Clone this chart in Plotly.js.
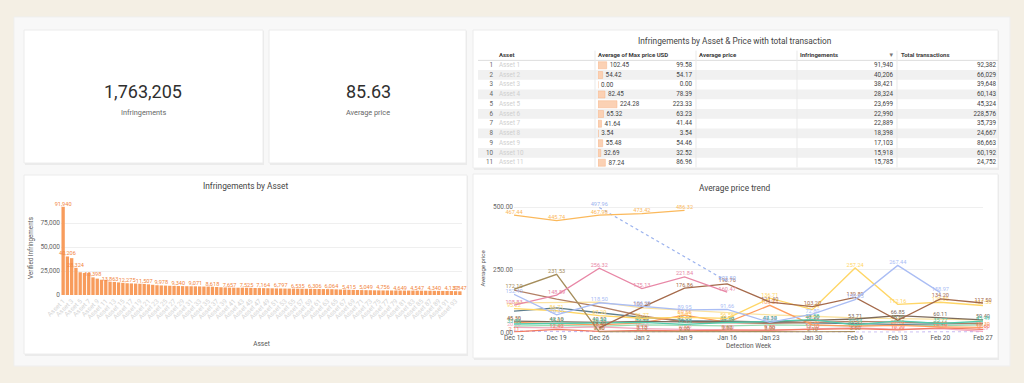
<!DOCTYPE html>
<html><head><meta charset="utf-8">
<script src="https://cdn.plot.ly/plotly-3.0.1.min.js"></script>
<style>html,body{margin:0;padding:0;background:#f4efe4;}#chart{width:1024px;height:383px;}</style>
</head><body><div id="chart"></div>
<script>
// ---------- DATA ----------
const kpiInfringements = 1763205;
const kpiAvgPrice = 85.63;

// Table (top 11 assets)
const tableRows = [1,2,3,4,5,6,7,8,9,10,11];
const tableAssets = ["Asset 1","Asset 2","Asset 3","Asset 4","Asset 5","Asset 6","Asset 7","Asset 8","Asset 9","Asset 10","Asset 11"];
const tableAvgMaxPrice = [102.45,54.42,0,82.45,224.28,65.32,41.64,3.54,55.48,32.69,87.24];
const tableAvgPrice = [99.58,54.17,0,78.39,223.33,63.23,41.44,3.54,54.46,32.52,86.96];
const tableInfringements = [91940,40206,38421,28324,23699,22990,22889,18398,17103,15918,15785];
const tableTotalTx = [92382,66029,39648,60143,45324,228576,35739,24667,86663,60192,24752];
const tableHeaders = ["Asset","Average of Max price USD","Average price","Infringements","Total transactions"];

// Bar chart: infringements by asset
const barAssets = ["Asset 1","Asset 2","Asset 3","Asset 4","Asset 5","Asset 6","Asset 7","Asset 8","Asset 9","Asset 10",
"Asset 11","Asset 12","Asset 13","Asset 14","Asset 15","Asset 16","Asset 17","Asset 18","Asset 19","Asset 20",
"Asset 21","Asset 22","Asset 23","Asset 24","Asset 25","Asset 26","Asset 27","Asset 28","Asset 29","Asset 30",
"Asset 31","Asset 32","Asset 33","Asset 34","Asset 35","Asset 36","Asset 37","Asset 38","Asset 39","Asset 40",
"Asset 41","Asset 42","Asset 43","Asset 44","Asset 45","Asset 46","Asset 47","Asset 48","Asset 49","Asset 50",
"Asset 51","Asset 52","Asset 53","Asset 54","Asset 55","Asset 56","Asset 57","Asset 58","Asset 59","Asset 60",
"Asset 61","Asset 62","Asset 63","Asset 64","Asset 65","Asset 66","Asset 67","Asset 68","Asset 69","Asset 70",
"Asset 71","Asset 72","Asset 73","Asset 74","Asset 75","Asset 76","Asset 77","Asset 78","Asset 79","Asset 80",
"Asset 81","Asset 82","Asset 83","Asset 84","Asset 85","Asset 86","Asset 87","Asset 88","Asset 89","Asset 90",
"Asset 91","Asset 92","Asset 93","Asset 94"];
const barInfringements = [91940,40206,38421,28324,23699,22990,22889,18398,17103,15918,
15785,13863,13620,13150,12690,12275,12080,11930,11720,11507,
11120,10640,10210,9978,9810,9620,9480,9340,9260,9190,
9120,9071,8950,8820,8710,8618,8340,8060,7830,7657,
7620,7590,7560,7525,7430,7330,7240,7164,7070,6970,
6880,6797,6730,6660,6600,6535,6480,6420,6360,6306,
6240,6180,6120,6064,5890,5730,5570,5415,5320,5220,
5130,5049,4970,4890,4820,4756,4730,4700,4675,4649,
4620,4600,4570,4547,4490,4440,4390,4340,4290,4240,
4190,4137,4000,3847];

// Line chart: average price trend by detection week
const weeks = ["Dec 12","Dec 19","Dec 26","Jan 2","Jan 9","Jan 16","Jan 23","Jan 30","Feb 6","Feb 13","Feb 20","Feb 27"];
const pOrange   = [467.44,445.74,467.98,473.42,486.32,null,null,null,null,null,null,null];
const pBlueDot  = [null,null,497.96,null,null,203.50,null,null,null,null,null,null];
const pBlue     = [152.40,70.35,118.50,104.20,89.95,91.66,40.20,72.80,130.95,267.44,158.97,null];
const pPink     = [108.83,148.89,256.32,175.13,221.84,160.47,null,null,null,null,null,null];
const pOlive    = [172.10,231.53,2.40,3.10,2.20,2.80,3.00,2.10,3.50,null,null,null];
const pBrown    = [null,null,18.40,100.28,176.86,193.76,121.40,103.20,139.89,48.60,134.20,117.50];
const pSienna   = [168.50,133.20,103.40,65.80,42.10,38.50,36.20,40.10,44.60,41.30,38.80,35.40];
const pSlate    = [85.40,98.20,78.60,60.30,47.10,44.20,41.50,38.70,35.20,32.60,34.10,36.80];
const pYellow   = [95.22,86.71,67.20,56.77,59.95,56.56,136.71,91.44,257.24,112.16,120.50,107.50];
const pPale     = [118.20,120.03,120.93,98.40,88.10,79.60,70.20,64.80,58.30,55.10,52.40,50.20];
const pTeal     = [33.85,35.12,36.44,40.22,32.15,39.80,44.14,51.58,30.54,46.29,35.77,45.49];
const pOrange2  = [40.10,35.60,30.20,38.40,69.56,40.30,108.34,30.50,25.20,28.10,22.40,20.30];
const pTaupe    = [45.30,42.10,40.50,44.20,42.60,45.10,42.30,48.20,53.71,66.85,60.11,50.40];
const pRed      = [2.11,12.40,4.26,8.13,6.05,9.62,9.50,12.10,15.30,10.20,18.40,12.60];
const pRose     = [20.30,18.10,22.40,15.60,12.30,10.10,8.40,14.20,18.30,12.50,15.10,4.29];
const pLavender = [5.10,3.20,2.40,2.10,4.30,3.10,2.20,3.40,2.30,1.20,2.40,3.10];
const pMint     = [25.40,28.10,24.30,30.20,28.40,26.10,30.30,28.20,26.40,29.10,27.30,30.10];

// ---------- LAYOUT HELPERS ----------
const W = 1024, H = 383;
const px = x => x / W;
const py = y => 1 - y / H;
const FONT = 'Roboto, "Open Sans", sans-serif';

function rect(x0, y0, x1, y1, fill, line) {
  return {type:'rect', xref:'paper', yref:'paper', x0:px(x0), x1:px(x1), y0:py(y1), y1:py(y0),
    fillcolor:fill, line:{color:line || 'rgba(0,0,0,0)', width:line ? 1 : 0}, layer:'below'};
}
function card(x0, y0, x1, y1) {
  return [rect(x0+1, y0+1, x1+1, y1+2, 'rgba(0,0,0,0.05)'), rect(x0, y0, x1, y1, '#ffffff', '#ececec')];
}
const shapes = [rect(14, 17, 1010, 366, '#f8f8f8', '#efefef')]
  .concat(card(24, 30, 263, 163), card(269, 30, 466, 163), card(473, 30, 998, 168),
          card(24, 175, 467, 354), card(473, 174, 998, 358));

// table row shading + separators
tableRows.forEach(r => {
  if (r % 2 === 0) shapes.push({type:'rect', xref:'x3', yref:'y3', x0:478, x1:998, y0:r-0.5, y1:r+0.5,
    fillcolor:'#f1f1f1', line:{width:0}, layer:'below'});
});
shapes.push({type:'line', xref:'x3', yref:'y3', x0:478, x1:998, y0:0.5, y1:0.5, line:{color:'#dddddd', width:1}});
[595, 696, 797, 897].forEach(x => shapes.push({type:'line', xref:'x3', yref:'y3', x0:x, x1:x, y0:-0.5, y1:11.5,
  line:{color:'#e9e9e9', width:1}}));

const fmt2 = v => v.toFixed(2);
const fmtInt = v => v.toLocaleString('en-US');

// ---------- TRACES ----------
const traces = [];

// Bar chart
const showBarLabel = i => i < 2 || i === 3 || (i >= 7 && (i - 7) % 4 === 0) || i === barInfringements.length - 1;
traces.push({
  type:'bar', x:barAssets, y:barInfringements, xaxis:'x', yaxis:'y',
  marker:{color:'#f89c5c'},
  text:barInfringements.map((v,i) => showBarLabel(i) ? fmtInt(v) : ''),
  textposition:'outside', textangle:0, constraintext:'none', cliponaxis:false,
  textfont:{size:5.6, color:'#f2873f', family:FONT}, hoverinfo:'skip'
});

// Line chart
const lineSeries = [
  {y:pMint, c:'#9adbb0', lab:false},
  {y:pLavender, c:'#c6baf2', lab:false, dash:'dot'},
  {y:pRose, c:'#f3a7bf', lab:true},
  {y:pRed, c:'#f27a62', lab:true},
  {y:pPale, c:'#fbe3a1', lab:false},
  {y:pSlate, c:'#5f7f8e', lab:false},
  {y:pSienna, c:'#b27f64', lab:false},
  {y:pOrange2, c:'#ff9c5e', lab:true},
  {y:pTaupe, c:'#7d6a5b', lab:true},
  {y:pTeal, c:'#4fcbab', lab:true},
  {y:pYellow, c:'#ffd666', lab:true},
  {y:pOlive, c:'#a58d5b', lab:true},
  {y:pBrown, c:'#a56a4b', lab:true},
  {y:pPink, c:'#e887a6', lab:true},
  {y:pBlue, c:'#aabdf4', lab:true},
  {y:pBlueDot, c:'#9cb3ee', lab:true, dash:'dot'},
  {y:pOrange, c:'#fbb95c', lab:true}
];
lineSeries.forEach(s => traces.push({
  type:'scatter', mode: s.lab ? 'lines+text' : 'lines', x:weeks, y:s.y, xaxis:'x2', yaxis:'y2',
  connectgaps:true, cliponaxis:false,
  line:{color:s.c, width:1.3, dash:s.dash || 'solid'},
  texttemplate:'%{y:.2f}', textposition:'top center',
  textfont:{size:5.6, color:s.c, family:FONT}, hoverinfo:'skip'
}));

// Table: data bars for "Average of Max price USD"
traces.push({
  type:'bar', orientation:'h', x:tableAvgMaxPrice, y:tableRows, xaxis:'x4', yaxis:'y3',
  width:0.72, marker:{color:'#fbd1b4', line:{color:'#f6b48b', width:0.5}},
  text:tableAvgMaxPrice.map(fmt2), textposition:'outside', textangle:0, constraintext:'none', cliponaxis:false,
  textfont:{size:6.3, color:'#444', family:FONT}, hoverinfo:'skip'
});
function col(x, texts, pos, color, size) {
  traces.push({type:'scatter', mode:'text', x:tableRows.map(() => x), y:tableRows, xaxis:'x3', yaxis:'y3',
    text:texts, textposition:pos, cliponaxis:false,
    textfont:{size:size || 6.3, color:color || '#444', family:FONT}, hoverinfo:'skip'});
}
col(493, tableRows.map(String), 'middle left', '#666');
col(499, tableAssets, 'middle right', '#cfcfcf');
col(692, tableAvgPrice.map(fmt2), 'middle left');
col(893, tableInfringements.map(fmtInt), 'middle left');
col(996, tableTotalTx.map(fmtInt), 'middle left');
// header
traces.push({type:'scatter', mode:'text', x:[499,598,699,800,901], y:[0,0,0,0,0], xaxis:'x3', yaxis:'y3',
  text:tableHeaders.map(h => '<b>' + h + '</b>'), textposition:'middle right', cliponaxis:false,
  textfont:{size:6, color:'#3c3c3c', family:FONT}, hoverinfo:'skip'});
traces.push({type:'scatter', mode:'text', x:[893], y:[0], xaxis:'x3', yaxis:'y3',
  text:['▾'], textposition:'middle left', cliponaxis:false,
  textfont:{size:7, color:'#777', family:'DejaVu Sans'}, hoverinfo:'skip'});

// ---------- LAYOUT ----------
const axFont = {size:6.5, color:'#666', family:FONT};
function ann(text, x, y, size, color) {
  return {text:text, x:px(x), y:py(y), xref:'paper', yref:'paper', xanchor:'center', yanchor:'middle',
    showarrow:false, font:{size:size, color:color, family:FONT}};
}
const layout = {
  width:W, height:H, autosize:false, margin:{l:0, r:0, t:0, b:0},
  paper_bgcolor:'#f4efe4', plot_bgcolor:'rgba(0,0,0,0)', showlegend:false,
  font:{family:FONT, color:'#444'}, bargap:0.22,
  shapes:shapes,
  xaxis:{domain:[px(61), px(462)], anchor:'y', type:'category', range:[-0.5, barAssets.length - 0.5],
    tickmode:'linear', tick0:0, dtick:2, tickangle:-45, tickfont:{size:6.5, color:'#d6d6d6', family:FONT},
    showgrid:false, zeroline:false, showline:false, ticks:'',
    title:{text:'Asset', font:{size:6.5, color:'#555', family:FONT}, standoff:21}},
  yaxis:{domain:[py(295), py(201)], anchor:'x', range:[0, 98000], tickvals:[0,25000,50000,75000],
    tickformat:',', tickfont:axFont, gridcolor:'#efefef', zeroline:false, showline:false, ticks:'',
    title:{text:'Verified Infringements', font:{size:6.3, color:'#555', family:FONT}, standoff:6}},
  xaxis2:{domain:[px(514), px(983)], anchor:'y2', type:'category', range:[0, 11],
    tickfont:{size:6.5, color:'#555', family:FONT}, showgrid:false, zeroline:false, showline:false, ticks:'',
    title:{text:'Detection Week', font:{size:6.5, color:'#555', family:FONT}, standoff:2}},
  yaxis2:{domain:[py(332.5), py(204.5)], anchor:'x2', range:[0, 510], tickvals:[0,250,500],
    tickformat:'.2f', tickfont:axFont, gridcolor:'#efefef', zeroline:false, showline:false, ticks:'',
    title:{text:'Average price', font:{size:6, color:'#555', family:FONT}, standoff:6}},
  xaxis3:{domain:[px(473), px(998)], anchor:'y3', range:[473, 998], visible:false, fixedrange:true},
  yaxis3:{domain:[py(167.6), py(49.65)], anchor:'x3', range:[11.5, -0.6], visible:false, fixedrange:true},
  xaxis4:{domain:[px(598), px(696)], anchor:'y3', range:[0, 1157], visible:false, fixedrange:true},
  annotations:[
    ann(fmtInt(kpiInfringements), 143, 92, 18, '#2f2f2f'),
    ann('Infringements', 143, 112, 7.3, '#666'),
    ann(kpiAvgPrice.toFixed(2), 368, 92, 18, '#2f2f2f'),
    ann('Average price', 368, 112, 7.3, '#666'),
    ann('Infringements by Asset &amp; Price with total transaction', 735, 41, 8.3, '#444'),
    ann('Infringements by Asset', 245, 186, 8.3, '#444'),
    ann('Average price trend', 735, 188, 8.3, '#444')
  ]
};

Plotly.newPlot('chart', traces, layout, {staticPlot:true, displayModeBar:false});
</script></body></html>
